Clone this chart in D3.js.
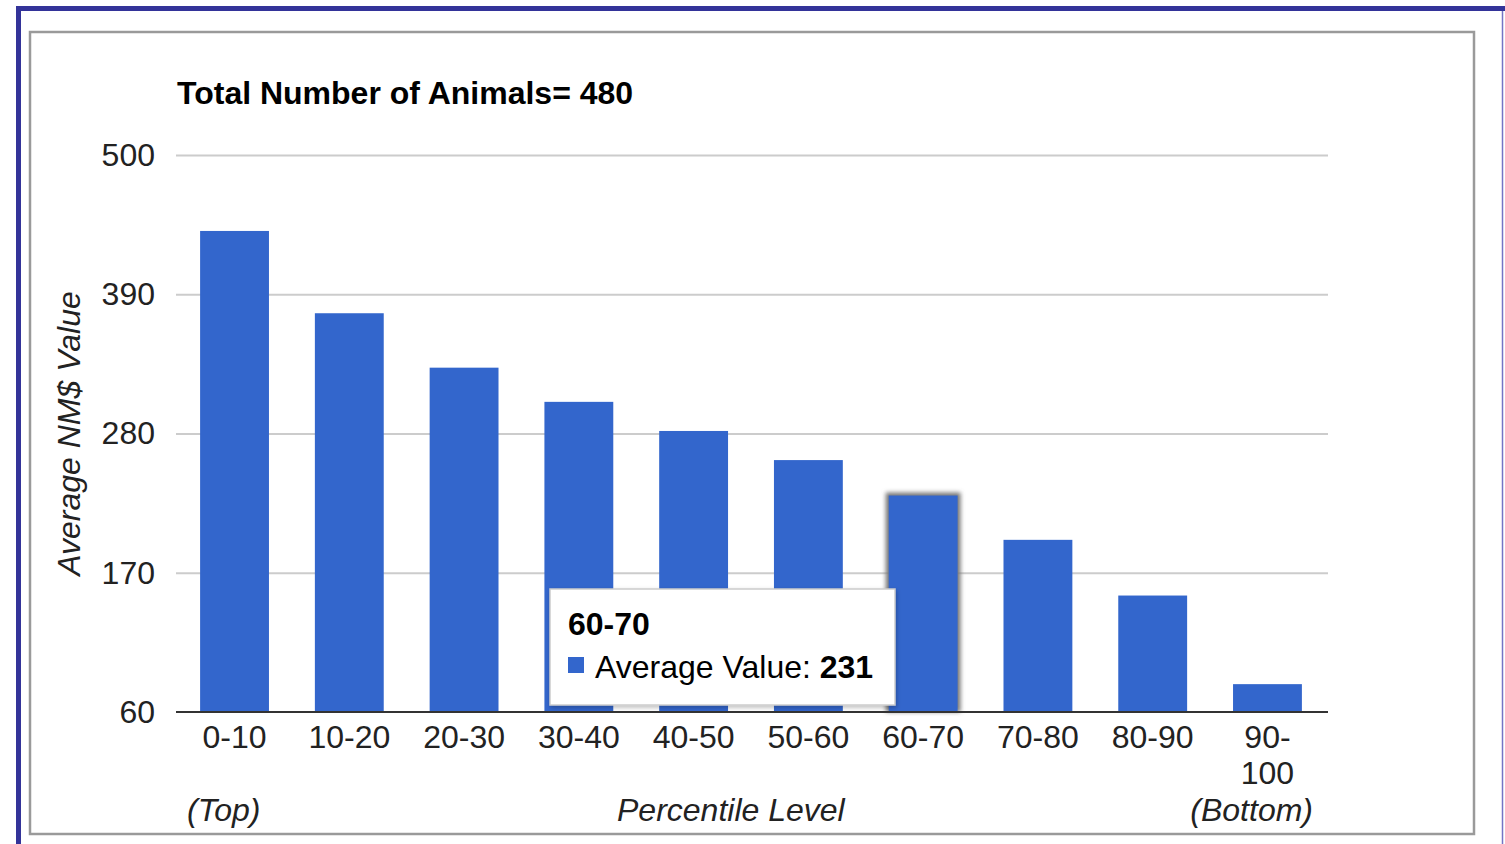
<!DOCTYPE html>
<html>
<head>
<meta charset="utf-8">
<script src="https://cdn.jsdelivr.net/npm/d3@7"></script>
<style>
  html, body { margin: 0; padding: 0; background: #fff; }
  svg { display: block; font-family: "Liberation Sans", Arial, sans-serif; }
</style>
</head>
<body>
<svg id="chart" width="1505" height="844"></svg>
<script>
// Percentile groups and their average NM$ value
const categories = ["0-10", "10-20", "20-30", "30-40", "40-50", "50-60", "60-70", "70-80", "80-90", "90-100"];
const averageValues = [440, 375, 332, 305, 282, 259, 231, 196, 152, 82];
const yTicks = [60, 170, 280, 390, 500];
const totalAnimals = 480;
const highlighted = "60-70";

const svg = d3.select("#chart");
const W = 1505, H = 844;

// Page frame
svg.append("rect").attr("x", 16).attr("y", 6).attr("width", W - 16).attr("height", 5).attr("fill", "#333399");
svg.append("rect").attr("x", 16).attr("y", 6).attr("width", 5).attr("height", H - 6).attr("fill", "#333399");
svg.append("line").attr("x1", 1502.5).attr("x2", 1502.5).attr("y1", 11).attr("y2", H)
  .attr("stroke", "#7474c4").attr("stroke-width", 1.5);

// Chart container border
svg.append("rect").attr("x", 30).attr("y", 32).attr("width", 1444).attr("height", 802)
  .attr("fill", "#fff").attr("stroke", "#9a9a9a").attr("stroke-width", 2.5);

const defs = svg.append("defs");
const glow = defs.append("filter").attr("id", "glow")
  .attr("x", "-20%").attr("y", "-20%").attr("width", "140%").attr("height", "140%");
glow.append("feGaussianBlur").attr("stdDeviation", 2);
const shadow = defs.append("filter").attr("id", "shadow")
  .attr("x", "-10%").attr("y", "-10%").attr("width", "120%").attr("height", "130%");
shadow.append("feDropShadow").attr("dx", 1).attr("dy", 2).attr("stdDeviation", 2)
  .attr("flood-color", "#000").attr("flood-opacity", 0.25);

const plot = { left: 176, right: 1328, top: 155, bottom: 712 };

const x = d3.scaleBand().domain(categories)
  .range([plot.left, plot.right - 2]).paddingInner(0.4).paddingOuter(0.21);
const y = d3.scaleLinear().domain([60, 500]).range([plot.bottom, plot.top]);

// Title
svg.append("text").attr("x", 177).attr("y", 104)
  .attr("font-size", 32).attr("font-weight", "bold").attr("fill", "#000")
  .text(`Total Number of Animals= ${totalAnimals}`);

// Gridlines and y tick labels
const yAxis = d3.axisLeft(y).tickValues(yTicks).tickSize(-(plot.right - plot.left)).tickPadding(21);
const gy = svg.append("g").attr("transform", `translate(${plot.left},0)`).call(yAxis);
gy.select(".domain").remove();
gy.selectAll(".tick line").attr("stroke", "#cccccc").attr("stroke-width", 2);
gy.selectAll(".tick text").attr("font-size", 32).attr("fill", "#222")
  .attr("font-family", "Liberation Sans, Arial, sans-serif");
gy.selectAll(".tick").filter(d => d === 60).select("line").remove();

// Highlight glow behind the hovered bar
const hv = averageValues[categories.indexOf(highlighted)];
svg.append("rect")
  .attr("x", x(highlighted) - 3).attr("y", y(hv) - 3)
  .attr("width", x.bandwidth() + 6).attr("height", plot.bottom - y(hv) + 3)
  .attr("fill", "#777").attr("filter", "url(#glow)");

// Bars
svg.append("g").selectAll("rect").data(categories).join("rect")
  .attr("x", d => x(d))
  .attr("y", (d, i) => y(averageValues[i]))
  .attr("width", x.bandwidth())
  .attr("height", (d, i) => plot.bottom - y(averageValues[i]))
  .attr("fill", "#3366cc");

// Baseline and category labels
const xAxis = d3.axisBottom(x).tickSize(0).tickPadding(36);
const gx = svg.append("g").attr("transform", `translate(0,${plot.bottom})`).call(xAxis);
gx.select(".domain").remove();
gx.append("line").attr("x1", plot.left).attr("x2", plot.right)
  .attr("stroke", "#333").attr("stroke-width", 2);
gx.selectAll(".tick text").attr("font-size", 32).attr("fill", "#222")
  .attr("font-family", "Liberation Sans, Arial, sans-serif")
  .attr("dy", 0)
  .each(function (d) {
    const t = d3.select(this);
    const parts = d.length > 5 ? [d.slice(0, d.indexOf("-") + 1), d.slice(d.indexOf("-") + 1)] : [d];
    t.text(null);
    parts.forEach((p, i) => {
      t.append("tspan").attr("x", 0).attr("dy", i === 0 ? 0 : 35.5).text(p);
    });
  });

// Axis titles
svg.append("text").attr("transform", "translate(80,433.5) rotate(-90)")
  .attr("text-anchor", "middle").attr("font-size", 32).attr("font-style", "italic").attr("fill", "#222")
  .text("Average NM$ Value");
svg.append("text").attr("x", 617).attr("y", 821)
  .attr("font-size", 32).attr("font-style", "italic").attr("fill", "#222")
  .text("Percentile Level");
svg.append("text").attr("x", 187).attr("y", 821)
  .attr("font-size", 32).attr("font-style", "italic").attr("fill", "#222")
  .text("(Top)");
svg.append("text").attr("x", 1313).attr("y", 821).attr("text-anchor", "end")
  .attr("font-size", 32).attr("font-style", "italic").attr("fill", "#222")
  .text("(Bottom)");

// Tooltip for the hovered bar
const tip = svg.append("g").attr("transform", "translate(550,589)");
tip.append("rect").attr("width", 345).attr("height", 116)
  .attr("fill", "#fff").attr("stroke", "#cccccc").attr("stroke-width", 1.5)
  .attr("filter", "url(#shadow)");
tip.append("text").attr("x", 18).attr("y", 46)
  .attr("font-size", 32).attr("font-weight", "bold").attr("fill", "#000")
  .text(highlighted);
tip.append("rect").attr("x", 18).attr("y", 68).attr("width", 16).attr("height", 16).attr("fill", "#3366cc");
const line = tip.append("text").attr("x", 45).attr("y", 89).attr("font-size", 32).attr("fill", "#000");
line.append("tspan").text("Average Value: ");
line.append("tspan").attr("font-weight", "bold").text(hv);
</script>
</body>
</html>
